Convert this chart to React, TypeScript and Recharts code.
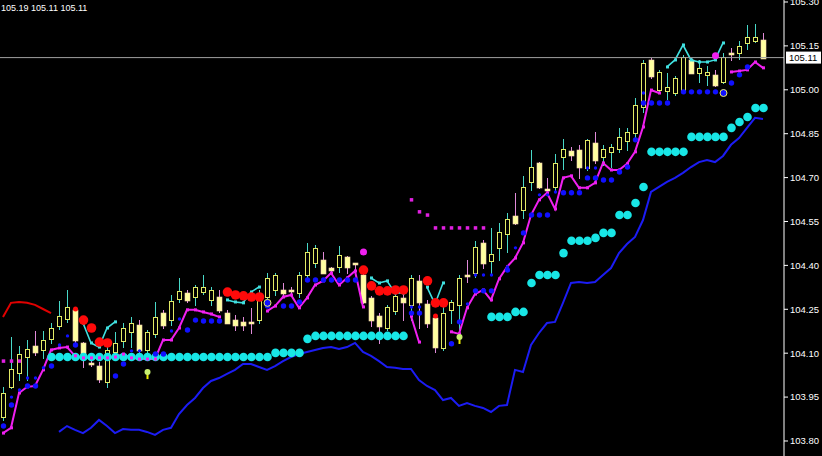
import { Bar, ComposedChart, Line, ReferenceLine, XAxis, YAxis } from "recharts";

type Pair = [number, number];

const headerText = "105.19 105.11 105.11";
const lastPrice = 105.11;
const yTicks = [103.8, 103.95, 104.1, 104.25, 104.4, 104.55, 104.7, 104.85, 105.0, 105.15, 105.3];

const opens = [
  103.882, 103.985, 104.032, 104.087, 104.125, 104.111, 104.149, 104.193, 104.217, 104.248,
  104.135, 104.067, 104.056, 104.002, 104.104, 104.142, 104.173, 104.196, 104.111, 104.166,
  104.237, 104.213, 104.285, 104.306, 104.292, 104.309, 104.282, 104.292, 104.237, 104.213,
  104.207, 104.207, 104.213, 104.292, 104.316, 104.316, 104.316, 104.306, 104.367, 104.408,
  104.419, 104.391, 104.395, 104.429, 104.408, 104.367, 104.289, 104.227, 104.186, 104.244,
  104.289, 104.265, 104.347, 104.268, 104.22, 104.118, 104.248, 104.265, 104.367, 104.374,
  104.477, 104.415, 104.46, 104.507, 104.569, 104.589, 104.685, 104.75, 104.661, 104.668,
  104.771, 104.791, 104.794, 104.733, 104.818, 104.771, 104.788, 104.798, 104.825, 104.852,
  104.941, 105.102, 104.999, 104.996, 104.989, 104.999, 105.102, 105.058, 105.051, 105.051,
  105.027, 105.126, 105.126, 105.16, 105.167, 105.17,
];
const highs = [
  103.985, 104.155, 104.125, 104.145, 104.176, 104.176, 104.203, 104.278, 104.316, 104.255,
  104.138, 104.084, 104.07, 104.128, 104.173, 104.203, 104.224, 104.213, 104.179, 104.275,
  104.248, 104.299, 104.357, 104.316, 104.333, 104.367, 104.326, 104.316, 104.248, 104.231,
  104.224, 104.255, 104.316, 104.374, 104.374, 104.34, 104.326, 104.378, 104.477, 104.47,
  104.446, 104.395, 104.466, 104.432, 104.408, 104.378, 104.296, 104.237, 104.265, 104.316,
  104.306, 104.367, 104.367, 104.282, 104.231, 104.282, 104.282, 104.367, 104.419, 104.484,
  104.487, 104.528, 104.545, 104.579, 104.648, 104.706, 104.794, 104.753, 104.699, 104.781,
  104.832, 104.805, 104.812, 104.832, 104.856, 104.812, 104.815, 104.87, 104.87, 104.972,
  105.102, 105.109, 105.068, 105.058, 105.047, 105.119, 105.109, 105.102, 105.081, 105.068,
  105.126, 105.143, 105.167, 105.222, 105.225, 105.194,
];
const lows = [
  103.872, 103.981, 104.008, 104.008, 104.094, 104.084, 104.135, 104.183, 104.207, 104.135,
  104.053, 104.056, 104.002, 103.985, 104.101, 104.121, 104.121, 104.104, 104.104, 104.155,
  104.186, 104.196, 104.275, 104.275, 104.265, 104.302, 104.265, 104.241, 104.203, 104.179,
  104.179, 104.169, 104.203, 104.275, 104.299, 104.292, 104.299, 104.292, 104.36, 104.395,
  104.374, 104.374, 104.378, 104.374, 104.378, 104.272, 104.193, 104.135, 104.179, 104.234,
  104.213, 104.213, 104.186, 104.19, 104.104, 104.111, 104.203, 104.169, 104.343, 104.36,
  104.391, 104.367, 104.419, 104.446, 104.542, 104.562, 104.658, 104.665, 104.651, 104.658,
  104.73, 104.76, 104.699, 104.726, 104.75, 104.743, 104.736, 104.788, 104.794, 104.839,
  104.924, 105.041, 104.993, 104.969, 104.982, 104.989, 105.058, 105.027, 105.017, 105.013,
  105.023, 105.102, 105.105, 105.14, 105.163, 105.11,
];
const closes = [
  103.964, 104.046, 104.097, 104.114, 104.104, 104.145, 104.186, 104.227, 104.258, 104.145,
  104.094, 104.063, 104.012, 104.111, 104.135, 104.186, 104.203, 104.111, 104.173, 104.224,
  104.196, 104.278, 104.313, 104.282, 104.326, 104.326, 104.316, 104.248, 104.203, 104.196,
  104.196, 104.203, 104.282, 104.357, 104.367, 104.306, 104.313, 104.367, 104.446, 104.46,
  104.374, 104.384, 104.436, 104.395, 104.405, 104.275, 104.213, 104.193, 104.258, 104.296,
  104.275, 104.357, 104.275, 104.203, 104.121, 104.237, 104.275, 104.357, 104.364, 104.463,
  104.408, 104.439, 104.514, 104.559, 104.545, 104.668, 104.736, 104.668, 104.658, 104.75,
  104.798, 104.777, 104.736, 104.829, 104.76, 104.798, 104.805, 104.839, 104.856, 104.948,
  105.092, 105.047, 105.061, 105.01, 105.041, 105.112, 105.058, 105.075, 105.061, 105.017,
  105.112, 105.122, 105.15, 105.181, 105.181, 105.11,
];

const magentaLine = [
  103.827, 103.845, 103.964, 103.985, 103.988, 104.043, 104.111, 104.118, 104.121, 104.091,
  104.084, 104.084, 104.084, 104.084, 104.087, 104.097, 104.084, 104.08, 104.08, 104.08,
  104.145, 104.145, 104.186, 104.248, 104.248, 104.241, 104.234, 104.224, null, null,
  null, null, null, 104.244, 104.261, 104.292, 104.299, 104.255, 104.289, 104.333,
  104.347, 104.374, 104.333, 104.357, 104.381, 104.258, null, null, null, null,
  null, 104.227, 104.138, null, null, null, 104.173, 104.166, 104.255, 104.302,
  104.316, 104.282, 104.354, 104.395, 104.425, 104.477, 104.572, 104.624, 104.648, 104.593,
  104.699, 104.706, 104.665, 104.665, 104.682, 104.75, 104.726, 104.726, 104.747, 104.788,
  104.873, 104.999, 104.989, null, null, null, null, null, null, null,
  null, 105.061, 105.064, 105.068, 105.095, 105.075,
];

const blueLine = [
  null, null, null, null, null, null, null, 103.831, 103.851, 103.838,
  103.827, 103.845, 103.872, 103.851, 103.827, 103.841, 103.838, 103.838, 103.831, 103.821,
  103.838, 103.845, 103.892, 103.923, 103.947, 103.981, 104.005, 104.015, 104.029, 104.043,
  104.063, 104.063, 104.053, 104.043, 104.056, 104.073, 104.087, 104.097, 104.104, 104.111,
  104.118, 104.121, 104.114, 104.121, 104.135, 104.104, 104.091, 104.073, 104.053, 104.05,
  104.046, 104.046, 104.008, 103.988, 103.974, 103.94, 103.947, 103.92, 103.93, 103.92,
  103.913, 103.899, 103.92, 103.923, 104.043, 104.036, 104.128, 104.169, 104.203, 104.207,
  104.272, 104.34, 104.343, 104.34, 104.343, 104.367, 104.391, 104.442, 104.473, 104.497,
  104.555, 104.651, 104.668, 104.685, 104.699, 104.716, 104.736, 104.753, 104.76, 104.753,
  104.774, 104.812, 104.835, 104.87, 104.904, 104.9,
];

const cyanDots = [
  null, null, null, null, null, null, 104.087, 104.087, 104.087, 104.087,
  104.087, 104.087, 104.087, 104.087, 104.087, 104.087, 104.087, 104.087, 104.087, 104.087,
  104.087, 104.087, 104.087, 104.087, 104.087, 104.087, 104.087, 104.087, 104.087, 104.087,
  104.087, 104.087, 104.087, 104.087, 104.101, 104.101, 104.101, 104.101, 104.149, 104.159,
  104.159, 104.159, 104.159, 104.159, 104.159, 104.159, 104.159, 104.159, 104.159, 104.159,
  104.159, null, null, null, null, null, null, null, null, null,
  null, 104.224, 104.224, 104.224, 104.241, 104.241, 104.34, 104.367, 104.367, 104.367,
  104.442, 104.484, 104.484, 104.484, 104.494, 104.511, 104.511, 104.572, 104.572, 104.613,
  104.668, 104.788, 104.788, 104.788, 104.788, 104.788, 104.839, 104.839, 104.839, 104.839,
  104.839, 104.87, 104.89, 104.907, 104.938, 104.938,
];

const cyanLine: Pair[] = [
  [10, 104.203], [11, 104.135], [12, 104.121], [13, 104.186], [14, 104.207],
  [28, 104.282], [29, 104.275], [30, 104.272], [31, 104.309], [32, 104.326],
  [46, 104.357], [47, 104.34], [48, 104.347], [49, 104.306], [50, 104.306],
  [53, 104.326], [54, 104.268], [55, 104.34],
  [83, 105.078], [84, 105.102], [85, 105.153], [86, 105.102], [87, 105.095], [88, 105.095], [89, 105.102], [90, 105.16],
];
const redLine: Pair[] = [
  [0, 104.224], [1, 104.272], [2, 104.275], [3, 104.272], [4, 104.265], [5, 104.251], [6, 104.237],
];
const magentaSquares: Pair[] = [
  [0, 104.073], [1, 104.073], [2, 104.073],
  [51, 104.624], [52, 104.583], [53, 104.572], [54, 104.528], [55, 104.528], [56, 104.528],
  [57, 104.528], [58, 104.528], [59, 104.528], [60, 104.528],
];
const redDots: Pair[] = [
  [10, 104.213], [11, 104.186], [12, 104.138], [13, 104.135],
  [28, 104.309], [29, 104.299], [30, 104.296], [31, 104.292], [32, 104.292],
  [45, 104.384], [46, 104.33], [47, 104.313], [48, 104.313], [49, 104.316], [50, 104.316],
  [53, 104.347], [54, 104.272], [55, 104.272],
];
const redSmall: Pair[] = [[9, 104.251], [54, 104.227]];
const magentaDots: Pair[] = [[45, 104.446], [89, 105.116]];
const blueSmall: Pair[] = [
  [1, 103.95], [2, 103.974], [3, 104.015], [4, 104.015], [5, 104.05], [7, 104.128], [8, 104.159],
  [16, 104.108], [17, 104.108], [21, 104.176], [22, 104.217], [51, 104.258], [52, 104.258],
  [58, 104.268], [59, 104.367], [60, 104.367], [61, 104.367], [63, 104.395], [64, 104.46],
  [67, 104.641], [68, 104.641], [69, 104.651], [73, 104.733], [74, 104.733], [80, 104.989],
];
const blueBig: Pair[] = [
  [0, 103.851], [1, 103.923], [3, 103.988], [4, 103.988], [6, 104.056], [9, 104.128],
  [14, 104.022], [15, 104.063], [19, 104.097], [20, 104.097], [23, 104.179], [24, 104.213],
  [25, 104.21], [26, 104.21], [27, 104.21], [33, 104.261], [35, 104.261], [36, 104.261], [37, 104.275],
  [38, 104.35], [39, 104.35], [40, 104.35], [41, 104.35], [42, 104.35], [43, 104.35], [44, 104.35],
  [51, 104.237], [52, 104.237], [56, 104.132], [57, 104.207], [59, 104.313], [60, 104.313], [61, 104.313],
  [63, 104.384], [65, 104.511], [66, 104.572], [67, 104.572], [68, 104.572], [70, 104.648], [71, 104.648],
  [72, 104.648], [73, 104.699], [74, 104.699], [75, 104.692], [76, 104.692], [77, 104.719], [78, 104.736],
  [79, 104.829], [80, 104.955], [81, 104.955], [82, 104.955], [83, 104.955], [85, 104.993], [86, 104.993],
  [87, 104.993], [88, 104.993], [89, 104.993], [90, 104.993], [91, 105.023], [92, 105.051], [93, 105.078],
];
const arrows: Pair[] = [[18, 104.032], [57, 104.152]];
const rings: Pair[] = [[33, 104.272], [90, 104.989]];

const sparse = (pairs: Pair[]) => {
  const out: (number | null)[] = opens.map(() => null);
  pairs.forEach(([i, v]) => {
    out[i] = v;
  });
  return out;
};

const cyanLineS = sparse(cyanLine);
const redLineS = sparse(redLine);
const magentaSqS = sparse(magentaSquares);
const redDotsS = sparse(redDots);
const redSmallS = sparse(redSmall);
const magentaDotsS = sparse(magentaDots);
const blueSmallS = sparse(blueSmall);
const blueBigS = sparse(blueBig);
const arrowsS = sparse(arrows);
const ringsS = sparse(rings);

const rows = opens.map((o, i) => ({
  i,
  o,
  h: highs[i],
  l: lows[i],
  c: closes[i],
  range: [lows[i], highs[i]],
  magenta: magentaLine[i],
  blue: blueLine[i],
  cyanDot: cyanDots[i],
  cyan: cyanLineS[i],
  red: redLineS[i],
  magentaSq: magentaSqS[i],
  redDot: redDotsS[i],
  redSmall: redSmallS[i],
  magentaDot: magentaDotsS[i],
  blueSmall: blueSmallS[i],
  blueBig: blueBigS[i],
  arrow: arrowsS[i],
  ring: ringsS[i],
}));

// candle drawn inside the high-low range bar, body placed proportionally
function Candle(props: any) {
  const { x, y, width, height } = props;
  const p = props.payload ?? props;
  if (x == null || y == null || !isFinite(y)) return <g />;
  const top = Math.min(y, y + height);
  const span = Math.abs(height);
  const cx = Math.round(x + width / 2);
  const k = p.h - p.l > 0 ? span / (p.h - p.l) : 0;
  const bodyTop = Math.round(top + (p.h - Math.max(p.o, p.c)) * k);
  const bodyBot = Math.round(top + (p.h - Math.min(p.o, p.c)) * k);
  const up = p.c >= p.o;
  const bh = bodyBot - bodyTop;
  return (
    <g>
      <line x1={cx + 0.5} x2={cx + 0.5} y1={Math.round(top)} y2={Math.round(top + span) + 1} stroke={up ? "#48d8c8" : "#e08ad8"} strokeWidth={1} />
      {bh < 1 ? (
        <line x1={cx - 2} x2={cx + 3} y1={bodyTop + 0.5} y2={bodyTop + 0.5} stroke="#f0f070" strokeWidth={1} />
      ) : up ? (
        <rect x={cx - 1.5} y={bodyTop + 0.5} width={4} height={bh} fill="#000000" stroke="#e2ea66" strokeWidth={1} />
      ) : (
        <rect x={cx - 2} y={bodyTop} width={5} height={bh + 1} fill="#ffffa0" stroke="#f4d0b0" strokeWidth={0.6} />
      )}
    </g>
  );
}

const empty = (index: number) => <g key={`n-${index}`} />;

const circleDot = (r: number, fill: string) => (props: any) => {
  const { cx, cy, index, value } = props;
  if (value == null || cy == null || !isFinite(cy)) return empty(index);
  return <circle key={`c-${index}`} cx={cx + 0.5} cy={cy} r={r} fill={fill} />;
};

const squareDot = (s: number, fill: string) => (props: any) => {
  const { cx, cy, index, value } = props;
  if (value == null || cy == null || !isFinite(cy)) return empty(index);
  return <rect key={`s-${index}`} x={cx + 0.5 - s / 2} y={cy - s / 2} width={s} height={s} fill={fill} />;
};

const arrowDot = (props: any) => {
  const { cx, cy, index, value } = props;
  if (value == null || cy == null || !isFinite(cy)) return empty(index);
  return (
    <g key={`a-${index}`}>
      <line x1={cx + 0.5} x2={cx + 0.5} y1={cy} y2={cy + 6} stroke="#f0f000" strokeWidth={2} />
      <circle cx={cx + 0.5} cy={cy - 1} r={3} fill="#c8f070" />
    </g>
  );
};

const ringDot = (props: any) => {
  const { cx, cy, index, value } = props;
  if (value == null || cy == null || !isFinite(cy)) return empty(index);
  return <circle key={`r-${index}`} cx={cx + 0.5} cy={cy} r={3.5} fill="#1010ff" stroke="#f0f060" strokeWidth={1} />;
};

const priceLabel = (p: any) => {
  const vb = p.viewBox ?? {};
  const x = (vb.x ?? 0) + (vb.width ?? 0) + 2;
  const y = vb.y ?? 0;
  return (
    <g>
      <rect x={x} y={y - 6} width={35} height={12} fill="#ffffff" />
      <text x={x + 3} y={y + 3.5} fill="#000000" fontSize={9.5} fontFamily="Liberation Sans, Arial, sans-serif">
        {lastPrice.toFixed(2)}
      </text>
    </g>
  );
};

export default function App() {
  return (
    <div style={{ position: "absolute", left: 0, top: 0, width: 822, height: 456, background: "#000000", overflow: "hidden" }}>
      <ComposedChart width={822} height={456} data={rows} margin={{ top: 0, right: 0, bottom: 0, left: 0 }}>
        <XAxis dataKey="i" type="number" domain={[-0.375, 97.625]} allowDataOverflow hide />
        <YAxis
          orientation="right"
          type="number"
          domain={[103.7487, 105.3068]}
          allowDataOverflow
          ticks={yTicks}
          interval={0}
          width={38}
          axisLine={{ stroke: "#ffffff" }}
          tickLine={{ stroke: "#ffffff" }}
          tickSize={4}
          tickMargin={2}
          tick={{ fill: "#ffffff", fontSize: 9.5, fontFamily: "Liberation Sans, Arial, sans-serif" }}
          tickFormatter={(v: number) => v.toFixed(2)}
        />
        <Bar dataKey="range" barSize={5} shape={Candle} isAnimationActive={false} />
        <Line dataKey="blue" stroke="#1c1cf4" strokeWidth={2} dot={false} activeDot={false} isAnimationActive={false} />
        <Line dataKey="red" stroke="#e00000" strokeWidth={2} dot={false} activeDot={false} isAnimationActive={false} />
        <Line dataKey="cyanDot" stroke="none" dot={circleDot(4.3, "#18e6e6")} activeDot={false} isAnimationActive={false} />
        <Line dataKey="magentaSq" stroke="none" dot={squareDot(3.5, "#e020e0")} activeDot={false} isAnimationActive={false} />
        <Line dataKey="magenta" stroke="#f020f0" strokeWidth={2} dot={squareDot(3, "#f020f0")} activeDot={false} isAnimationActive={false} />
        <Line dataKey="cyan" stroke="#40e0e0" strokeWidth={1.6} dot={squareDot(3, "#40e0e0")} activeDot={false} isAnimationActive={false} />
        <Line dataKey="blueSmall" stroke="none" dot={circleDot(1.7, "#1010ff")} activeDot={false} isAnimationActive={false} />
        <Line dataKey="blueBig" stroke="none" dot={circleDot(2.7, "#1010ff")} activeDot={false} isAnimationActive={false} />
        <Line dataKey="redDot" stroke="none" dot={circleDot(4.8, "#ff0a0a")} activeDot={false} isAnimationActive={false} />
        <Line dataKey="redSmall" stroke="none" dot={circleDot(2.5, "#ff0a0a")} activeDot={false} isAnimationActive={false} />
        <Line dataKey="magentaDot" stroke="none" dot={circleDot(3.5, "#f020f0")} activeDot={false} isAnimationActive={false} />
        <Line dataKey="ring" stroke="none" dot={ringDot} activeDot={false} isAnimationActive={false} />
        <Line dataKey="arrow" stroke="none" dot={arrowDot} activeDot={false} isAnimationActive={false} />
        <ReferenceLine y={lastPrice} stroke="#a0a0a0" strokeWidth={1} label={priceLabel} />
      </ComposedChart>
      <div
        style={{
          position: "absolute",
          left: 1,
          top: 3.5,
          color: "#ffffff",
          fontSize: 9,
          lineHeight: 1,
          fontFamily: "Liberation Sans, Arial, sans-serif",
          whiteSpace: "nowrap",
        }}
      >
        {headerText}
      </div>
    </div>
  );
}
